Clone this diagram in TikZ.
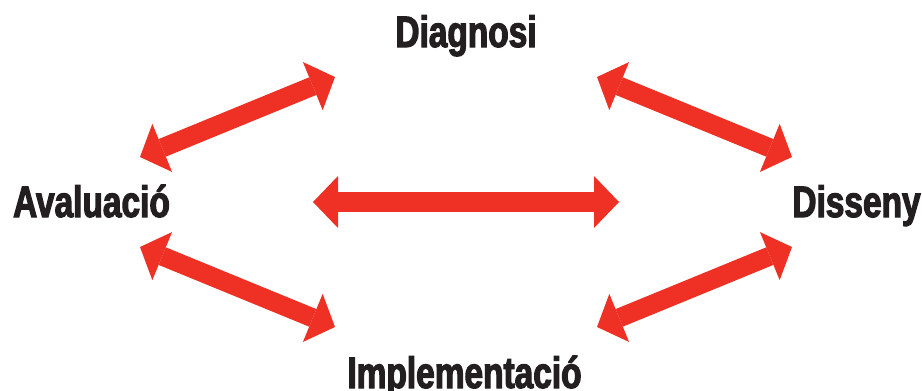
\documentclass[tikz,border=0pt]{standalone}
\usepackage{fontspec}
\usetikzlibrary{arrows.meta}
\newfontfamily\lblfont{Liberation Sans Bold}[FakeStretch=0.76,FakeBold=2.6]
\definecolor{arrred}{HTML}{EE3124}
\definecolor{txtblack}{HTML}{231F20}
\tikzset{
  lbl/.style={inner sep=0pt, anchor=base, text=txtblack, font=\lblfont\fontsize{44}{44}\selectfont},
  bigarrow/.style={draw=arrred, line width=#1, line cap=butt,
    {Triangle[length=24pt,width=52pt,line width=0pt]}-{Triangle[length=24pt,width=52pt,line width=0pt]}},
}
\begin{document}
\begin{tikzpicture}[x=1pt,y=-1pt]
\useasboundingbox (0,0) rectangle (922,391);
% labels
\node[lbl] (diag) at (466,47) {Diagnosi};
\node[lbl] (aval) at (91.5,217) {Avaluació};
\node[lbl] (diss) at (856.5,217) {Disseny};
\node[lbl] (impl) at (464.5,388) {Implementació};
% arrow end points
\coordinate (tl1) at (140,157); \coordinate (tl2) at (335,77);
\coordinate (tr1) at (597,77);  \coordinate (tr2) at (792,157);
\coordinate (bl1) at (140,247); \coordinate (bl2) at (335,327);
\coordinate (br1) at (597,327); \coordinate (br2) at (792,247);
\coordinate (h1) at (313,202);  \coordinate (h2) at (619,202);
% arrows
\draw[bigarrow=19pt] (tl1) -- (tl2);
\draw[bigarrow=19pt] (tr1) -- (tr2);
\draw[bigarrow=19pt] (bl1) -- (bl2);
\draw[bigarrow=19pt] (br1) -- (br2);
\draw[draw=arrred, line width=20pt,
  {Triangle[length=25pt,width=52pt,line width=0pt]}-{Triangle[length=25pt,width=52pt,line width=0pt]}] (h1) -- (h2);
\end{tikzpicture}
\end{document}
